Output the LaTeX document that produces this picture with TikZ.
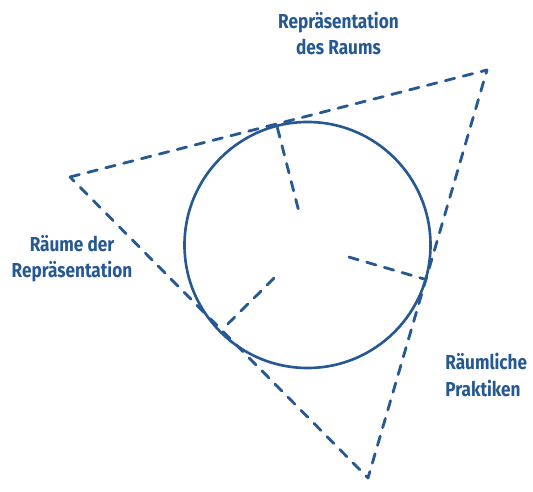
\documentclass[tikz,border=0pt]{standalone}
\usepackage{fontspec}
\newfontfamily\handfont[FakeStretch=0.85]{Fira Sans}
\usetikzlibrary{calc}
\definecolor{ink}{RGB}{38,88,145}

\begin{document}
\begin{tikzpicture}[line cap=round, line join=round,
    dashline/.style={ink, line width=1.6pt, dash pattern=on 5.5pt off 5pt},
    lbl/.style={ink, font=\handfont\bfseries\fontsize{11.5}{15}\selectfont, inner sep=0pt}]
    \useasboundingbox (0,0) rectangle (10.66,9.82);
    % centre and corners of the triangle
    \coordinate (O) at (6.15,4.92);
    \coordinate (A) at (1.40,6.28);
    \coordinate (B) at (9.74,8.42);
    \coordinate (C) at (7.36,0.26);
    % where the sides touch the circle
    \coordinate (tAB) at ($(A)!(O)!(B)$);
    \coordinate (tBC) at ($(B)!(O)!(C)$);
    \coordinate (tCA) at ($(C)!(O)!(A)$);
    \draw[dashline] (A) -- (B) -- (C) -- cycle;
    \draw[ink, line width=1.5pt] (O) circle (2.46);
    \draw[dashline] ($(O)!0.30!(tAB)$) -- (tAB);
    \draw[dashline] ($(O)!0.35!(tBC)$) -- (tBC);
    \draw[dashline] ($(O)!0.39!(tCA)$) -- (tCA);
    \node[lbl, align=center] (raum) at (6.77,9.15) {Repräsentation\\des Raums};
    \node[lbl, align=center] (repr) at (1.44,4.65) {Räume der\\Repräsentation};
    \node[lbl, align=left, anchor=west] (prax) at (8.90,2.32) {Räumliche\\Praktiken};
\end{tikzpicture}
\end{document}
